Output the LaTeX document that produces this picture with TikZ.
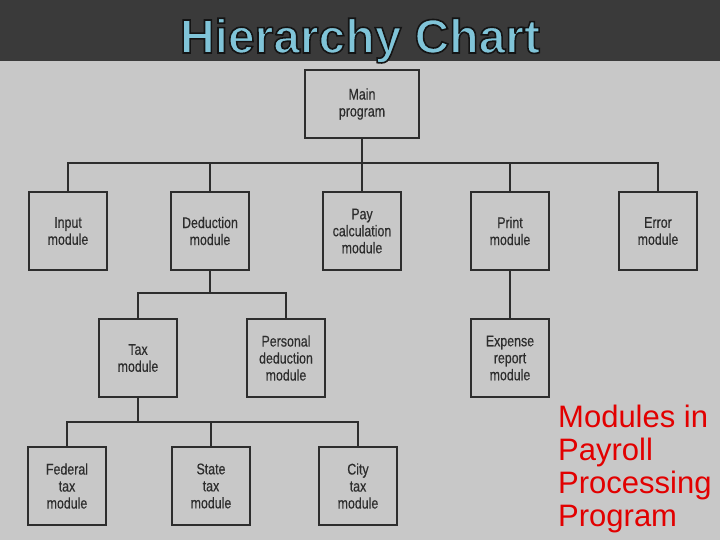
\documentclass[tikz,border=0pt]{standalone}
\usepackage{fontspec}
\setmainfont{Liberation Sans}
\newfontfamily\boxfont[FakeStretch=0.80,FakeBold=0.4]{Liberation Sans}
\definecolor{bgc}{RGB}{200,200,200}
\definecolor{barc}{RGB}{58,58,58}
\definecolor{inkc}{RGB}{45,45,45}
\definecolor{titc}{RGB}{128,196,216}
\definecolor{redc}{RGB}{226,0,0}
\begin{document}
\begin{tikzpicture}[x=1pt,y=-1pt,
  mod/.style={draw=inkc,line width=2pt,fill=bgc,minimum width=78pt,minimum height=78pt,
    inner sep=1pt,align=center,text=inkc,font=\boxfont\fontsize{15.5}{17}\selectfont},
  conn/.style={draw=inkc,line width=2pt},
  redtxt/.style={anchor=base west,text=redc,font=\fontsize{31}{33}\selectfont,inner sep=0pt}]
\useasboundingbox (0,0) rectangle (720,540);
\fill[bgc] (0,0) rectangle (720,540);
\fill[barc] (0,0) rectangle (720,61);
% title with dark outline
\node[anchor=base,text=titc,font=\bfseries\fontsize{48}{50}\selectfont,inner sep=0pt] (title) at (360,53)
  {\special{pdf:code 2 Tr 1.6 w 0.08 0.08 0.08 RG}Hierarchy Chart\special{pdf:code 0 Tr 0.4 w}};
% bus coordinates
\coordinate (bus1) at (0,163);
\coordinate (bus2) at (0,293);
\coordinate (bus3) at (0,422);
% modules
\node[mod,minimum width=114pt,minimum height=68pt] (main) at (362,104) {Main\\program};
\node[mod] (input) at (68,231) {Input\\module};
\node[mod] (deduction) at (210,231) {Deduction\\module};
\node[mod] (pay) at (362,231) {Pay\\calculation\\module};
\node[mod] (print) at (510,231) {Print\\module};
\node[mod] (error) at (658,231) {Error\\module};
\node[mod] (tax) at (138,358) {Tax\\module};
\node[mod] (personal) at (286,358) {Personal\\deduction\\module};
\node[mod] (expense) at (510,358) {Expense\\report\\module};
\node[mod] (federal) at (67,486) {Federal\\tax\\module};
\node[mod] (state) at (211,486) {State\\tax\\module};
\node[mod] (city) at (358,486) {City\\tax\\module};
% connectors
\foreach \c in {input,deduction,pay,print,error}
  \draw[conn] (main.south) -- (main.south |- bus1) -| (\c.north);
\foreach \c in {tax,personal}
  \draw[conn] (deduction.south) -- (deduction.south |- bus2) -| (\c.north);
\foreach \c in {federal,state,city}
  \draw[conn] (tax.south) -- (tax.south |- bus3) -| (\c.north);
\draw[conn] (print.south) -- (expense.north);
% caption
\node[redtxt] (cap1) at (558,427) {Modules in};
\node[redtxt] (cap2) at (558,460) {Payroll};
\node[redtxt] (cap3) at (558,493) {Processing};
\node[redtxt] (cap4) at (558,526) {Program};
\end{tikzpicture}
\end{document}
